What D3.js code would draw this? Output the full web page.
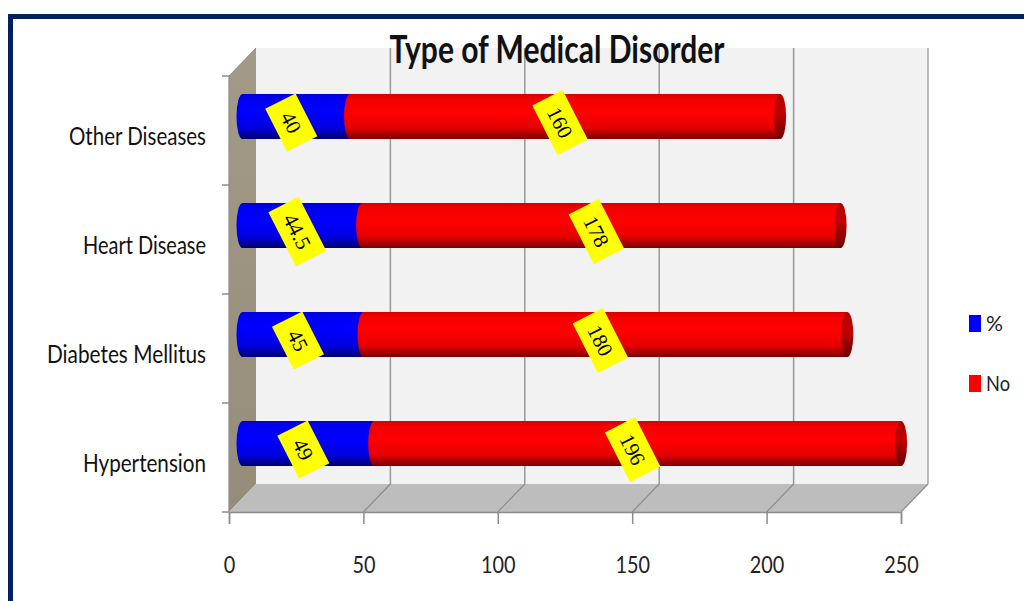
<!DOCTYPE html>
<html><head><meta charset="utf-8">
<script src="https://cdn.jsdelivr.net/npm/d3@7"></script>
<style>body{margin:0;background:#fff}svg{display:block}</style>
</head><body>
<svg id="c" width="1024" height="601"></svg>
<script>
const categories = ["Other Diseases","Heart Disease","Diabetes Mellitus","Hypertension"];
const pctValues = [40,44.5,45,49];
const noValues = [160,178,180,196];
const seriesNames = ["%","No"];
const xTicks = [0,50,100,150,200,250];
const title = "Type of Medical Disorder";
const catLabelWidths = {"Other Diseases":137,"Heart Disease":123,"Diabetes Mellitus":159,"Hypertension":123};

const svg = d3.select("#c");
const defs = svg.append("defs");
function grad(id, stops){
  const g = defs.append("linearGradient").attr("id",id).attr("x1",0).attr("y1",0).attr("x2",0).attr("y2",1);
  stops.forEach(s=>g.append("stop").attr("offset",s[0]).attr("stop-color",s[1]));
}
grad("gBlue",[[0,"#0000d8"],[0.12,"#0000f5"],[0.4,"#0000ff"],[0.75,"#0000e0"],[1,"#00006e"]]);
grad("gRed",[[0,"#d80000"],[0.12,"#f50000"],[0.4,"#ff0000"],[0.75,"#e60000"],[1,"#7a0000"]]);
grad("gRedCap",[[0,"#b00000"],[0.4,"#c40000"],[1,"#6a0000"]]);
grad("gSide",[[0,"#a49a88"],[1,"#958c7a"]]);

const x = d3.scaleLinear().domain([0,250]).range([229,901]);
const y = d3.scaleBand().domain(categories).range([76,512]);
const DX = 27, DY = -28;
const floorY = 512;
const topY = 76;

// frame
svg.append("rect").attr("x",10.5).attr("y",16.5).attr("width",1100).attr("height",700)
  .attr("fill","none").attr("stroke","#002060").attr("stroke-width",5);

// back wall
svg.append("rect").attr("x",x(0)+DX).attr("y",topY+DY).attr("width",x(250)-x(0)).attr("height",floorY-topY)
  .attr("fill","#f2f2f2");
// side wall
svg.append("path").attr("d",`M${x(0)},${topY} L${x(0)+DX},${topY+DY} L${x(0)+DX},${floorY+DY} L${x(0)},${floorY} Z`)
  .attr("fill","url(#gSide)");
// floor
svg.append("path").attr("d",`M${x(0)},${floorY} L${x(0)+DX},${floorY+DY} L${x(250)+DX},${floorY+DY} L${x(250)},${floorY} Z`)
  .attr("fill","#bdbdbd");
// right edge of back wall
svg.append("line").attr("x1",x(250)+DX).attr("x2",x(250)+DX).attr("y1",topY+DY).attr("y2",floorY+DY)
  .attr("stroke","#a6a6a6").attr("stroke-width",1.5);
// gridlines on back wall + floor diagonals
xTicks.forEach(t=>{
  if(t>0 && t<250){
    svg.append("line").attr("x1",x(t)+DX).attr("x2",x(t)+DX).attr("y1",topY+DY).attr("y2",floorY+DY)
      .attr("stroke","#999").attr("stroke-width",1.5);
  }
  if(t>0){
    svg.append("line").attr("x1",x(t)).attr("y1",floorY).attr("x2",x(t)+DX).attr("y2",floorY+DY)
      .attr("stroke","#8c8c8c").attr("stroke-width",1.2);
  }
});
// side wall top edge line
svg.append("line").attr("x1",x(0)).attr("y1",topY).attr("x2",x(0)+DX).attr("y2",topY+DY)
  .attr("stroke","#8c8c8c").attr("stroke-width",1);

// x axis (front)
const xAxis = d3.axisBottom(x).tickValues(xTicks).tickSize(12).tickFormat(d3.format("d"));
const gx = svg.append("g").attr("transform",`translate(0,${floorY})`).call(xAxis);
gx.select(".domain").attr("stroke","#8c8c8c").attr("stroke-width",1.5);
gx.selectAll(".tick line").attr("stroke","#8c8c8c").attr("stroke-width",1.5);
gx.selectAll(".tick text").attr("y",null).attr("dy",null).attr("transform","translate(0,61)")
  .attr("font-family","Lato, 'DejaVu Sans', sans-serif").attr("font-size",24).attr("fill","#222")
  .attr("textLength",d=>String(d).length*11.5).attr("lengthAdjust","spacingAndGlyphs");

// y axis (front edge of side wall)
svg.append("line").attr("x1",x(0)).attr("x2",x(0)).attr("y1",topY).attr("y2",floorY)
  .attr("stroke","#8c8c8c").attr("stroke-width",1.2);
const bounds = categories.map(c=>y(c)).concat([y(categories[categories.length-1])+y.bandwidth()]);
svg.selectAll(".ytick").data(bounds).join("line").attr("class","ytick")
  .attr("x1",x(0)-7).attr("x2",x(0)).attr("y1",d=>d).attr("y2",d=>d)
  .attr("stroke","#8c8c8c").attr("stroke-width",1.5);
svg.selectAll(".ylab").data(categories).join("text").attr("class","ylab")
  .attr("x",206).attr("y",d=>y(d)+y.bandwidth()/2+14).attr("text-anchor","end")
  .attr("font-family","Lato, 'DejaVu Sans', sans-serif").attr("font-size",25).attr("fill","#111")
  .attr("textLength",d=>catLabelWidths[d]).attr("lengthAdjust","spacingAndGlyphs")
  .text(d=>d);

// bars (cylinders) at mid depth
const R = 22.5, RX = 6;
const xb = v => x(v) + DX/2;
categories.forEach((c,i)=>{
  const cy = y(c)+y.bandwidth()/2 + DY/2;
  const p = pctValues[i], n = noValues[i];
  const g = svg.append("g");
  g.append("ellipse").attr("cx",xb(0)).attr("cy",cy).attr("rx",RX).attr("ry",R).attr("fill","url(#gBlue)");
  g.append("rect").attr("x",xb(0)).attr("y",cy-R).attr("width",xb(p)-xb(0)).attr("height",2*R).attr("fill","url(#gBlue)");
  g.append("rect").attr("x",xb(p)).attr("y",cy-R).attr("width",xb(p+n)-xb(p)).attr("height",2*R).attr("fill","url(#gRed)");
  g.append("ellipse").attr("cx",xb(p)).attr("cy",cy).attr("rx",RX).attr("ry",R).attr("fill","url(#gRed)");
  g.append("ellipse").attr("cx",xb(p+n)).attr("cy",cy).attr("rx",RX).attr("ry",R).attr("fill","url(#gRedCap)");
  [[p/2, p],[p+n/2, n]].forEach(([mid,val])=>{
    const lg = svg.append("g").attr("transform",`translate(${xb(mid)-5},${cy+6}) rotate(63)`);
    const r = lg.append("rect").attr("fill","#ffff00");
    const t = lg.append("text").attr("text-anchor","middle").attr("dy","0.35em")
      .attr("font-family","'Liberation Serif', 'DejaVu Serif', serif").attr("font-size",21).attr("fill","#000")
      .text(String(val));
    const w = Math.max(48, t.node().getComputedTextLength()+24), h = 34;
    r.attr("x",-w/2).attr("y",-h/2).attr("width",w).attr("height",h);
  });
});

// title
svg.append("text").attr("x",557).attr("y",63).attr("text-anchor","middle")
  .attr("font-family","Lato, 'DejaVu Sans', sans-serif").attr("font-size",38).attr("font-weight","bold").attr("fill","#111")
  .attr("textLength",335).attr("lengthAdjust","spacingAndGlyphs").text(title);

// legend
const colors = ["#0000ff","#ff0000"];
const legY = [315,375];
const legW = [17,24];
seriesNames.forEach((s,i)=>{
  svg.append("rect").attr("x",969).attr("y",legY[i]).attr("width",12).attr("height",17).attr("fill",colors[i]);
  svg.append("text").attr("x",986).attr("y",legY[i]+16).attr("font-family","Lato, 'DejaVu Sans', sans-serif")
    .attr("font-size",22).attr("fill","#222").attr("textLength",legW[i]).attr("lengthAdjust","spacingAndGlyphs").text(s);
});
</script>
</body></html>
